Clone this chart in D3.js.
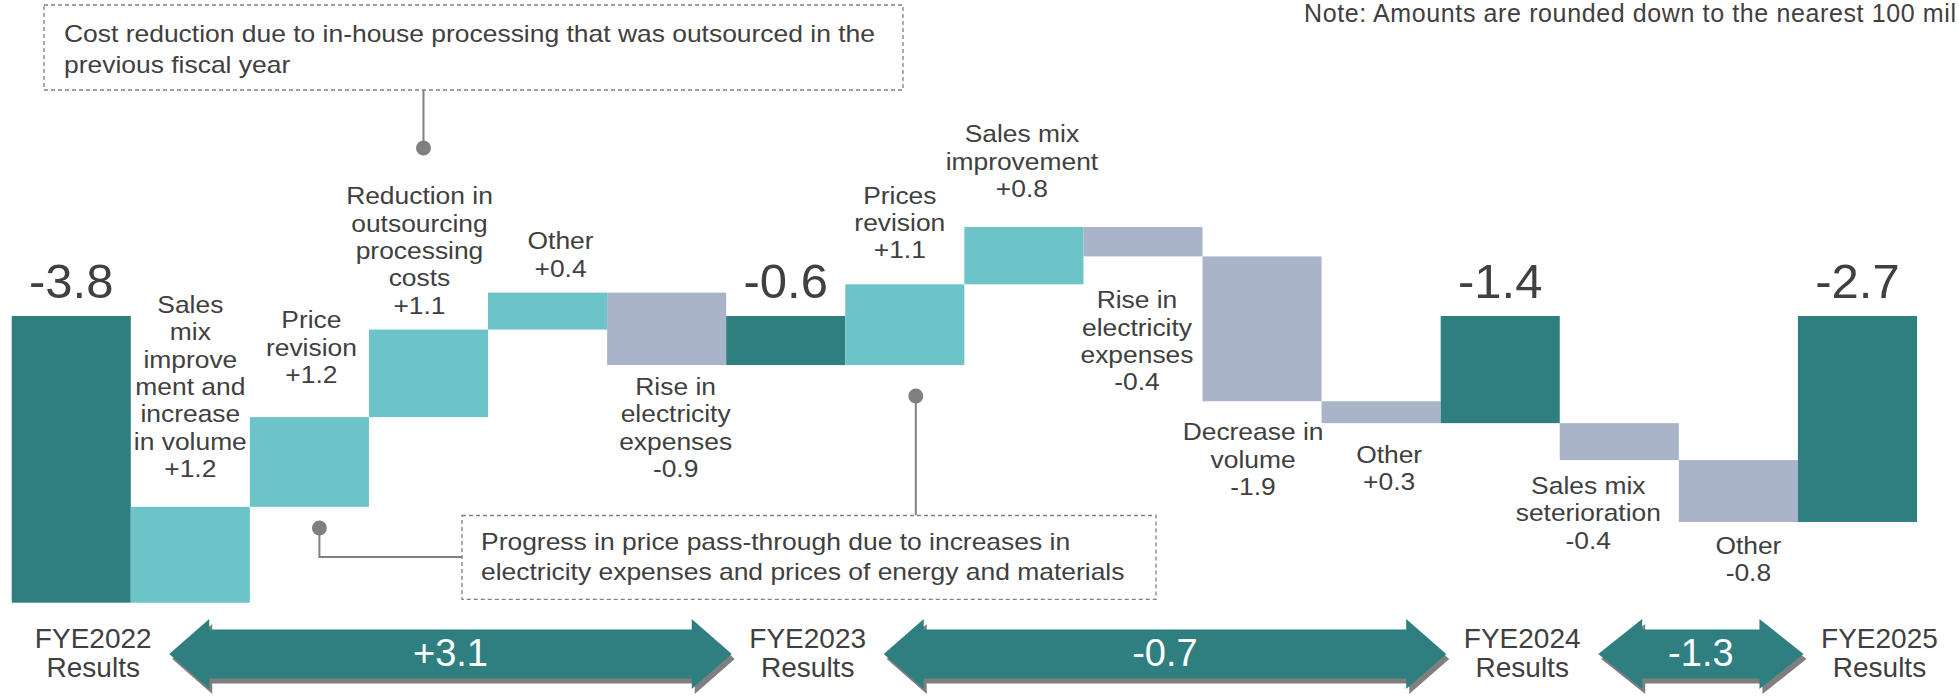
<!DOCTYPE html>
<html>
<head>
<meta charset="utf-8">
<script src="https://cdn.jsdelivr.net/npm/d3@7"></script>
<style>
  body { margin: 0; background: #fff; }
  svg { display: block; font-family: "Liberation Sans", Arial, sans-serif; }
</style>
</head>
<body>
<script>
// Operating income walk, FYE2022 -> FYE2025 (billion yen)
var categories = ["FYE2022 Results", "Sales mix improvement and increase in volume", "Price revision",
    "Reduction in outsourcing processing costs", "Other", "Rise in electricity expenses",
    "FYE2023 Results", "Prices revision", "Sales mix improvement", "Rise in electricity expenses",
    "Decrease in volume", "Other", "FYE2024 Results", "Sales mix seterioration", "Other", "FYE2025 Results"];
var isTotal = [true, false, false, false, false, false, true, false, false, false, false, false, true, false, false, true];

// bar sizes (the printed figures are rounded down)
var barValues = [-3.80, 1.27, 1.19, 1.16, 0.49, -0.96, -0.65, 1.07, 0.76, -0.39, -1.92, -0.29, -1.42, -0.49, -0.82, -2.73];
var valueLabels = ["-3.8", "+1.2", "+1.2", "+1.1", "+0.4", "-0.9", "-0.6", "+1.1", "+0.8", "-0.4", "-1.9", "+0.3", "-1.4", "-0.4", "-0.8", "-2.7"];

var labelLines = [
    [], ["Sales", "mix", "improve", "ment and", "increase", "in volume"], ["Price", "revision"],
    ["Reduction in", "outsourcing", "processing", "costs"], ["Other"], ["Rise in", "electricity", "expenses"],
    [], ["Prices", "revision"], ["Sales mix", "improvement"], ["Rise in", "electricity", "expenses"],
    ["Decrease in", "volume"], ["Other"], [], ["Sales mix", "seterioration"], ["Other"], []
];

var periods = ["FYE2022", "FYE2023", "FYE2024", "FYE2025"];
var periodChanges = ["+3.1", "-0.7", "-1.3"];

var noteText = "Note: Amounts are rounded down to the nearest 100 million yen";
var callTop = ["Cost reduction due to in-house processing that was outsourced in the", "previous fiscal year"];
var callBottom = ["Progress in price pass-through due to increases in", "electricity expenses and prices of energy and materials"];

// label placement tweaks (dx from bar centre, gap from bar edge)
var labelLayout = [null, {dx: 0, gap: 30}, {dx: 2, gap: 34}, {dx: -9, gap: 16}, {dx: 13, gap: 16},
    {dx: 9, gap: 30}, null, {dx: -5, gap: 26}, {dx: -2, gap: 30}, {dx: -6, gap: 52}, {dx: -9, gap: 39},
    {dx: 8, gap: 40}, null, {dx: -31, gap: 34}, {dx: 10, gap: 32}, null];

var W = 1959, H = 696;
var colTotal = "#2f7f80", colUp = "#6cc4c8", colDown = "#aab4c8", textCol = "#404040", lineCol = "#808080";

var svg = d3.select("body").append("svg")
    .attr("width", W)
    .attr("height", H);

var x = d3.scaleBand().domain(d3.range(categories.length)).range([11.7, 1917]).padding(0);
var y = d3.scaleLinear().domain([0, -3.8]).range([316, 602.7]);

// running levels
var level = 0;
var bars = barValues.map(function(v, i) {
    var b;
    if (isTotal[i]) {
        b = {i: i, from: 0, to: v};
        level = v;
    } else {
        b = {i: i, from: level, to: level + v};
        level += v;
    }
    return b;
});

svg.append("g").selectAll("rect")
    .data(bars)
    .enter().append("rect")
    .attr("x", function(d) { return x(d.i); })
    .attr("width", x.bandwidth())
    .attr("y", function(d) { return y(Math.max(d.from, d.to)); })
    .attr("height", function(d) { return Math.abs(y(d.from) - y(d.to)); })
    .attr("fill", function(d) {
        if (isTotal[d.i]) return colTotal;
        return d.to > d.from ? colUp : colDown;
    });

// text block stretched a bit wider, like the source slide
function textBlock(cx, y0, lines, size, sx, lh, anchor) {
    var g = svg.append("g")
        .attr("transform", "translate(" + cx + "," + y0 + ") scale(" + sx + ",1)");
    var t = g.append("text")
        .attr("fill", textCol)
        .attr("font-size", size + "px")
        .attr("text-anchor", anchor || "middle");
    lines.forEach(function(s, k) {
        t.append("tspan").attr("x", 0).attr("y", k * lh).text(s);
    });
    return t;
}

// category + value labels
var LH = 27.3;
bars.forEach(function(d) {
    var i = d.i;
    var cx = x(i) + x.bandwidth() / 2;
    if (isTotal[i]) {
        svg.append("text")
            .attr("x", cx)
            .attr("y", y(0) - 18)
            .attr("text-anchor", "middle")
            .attr("fill", textCol)
            .attr("font-size", "49px")
            .text(valueLabels[i]);
        return;
    }
    var lines = labelLines[i].concat([valueLabels[i]]);
    var lay = labelLayout[i];
    var first;
    if (d.to > d.from) {
        first = y(d.to) - lay.gap - (lines.length - 1) * LH;
    } else {
        first = y(d.to) + lay.gap;
    }
    textBlock(cx + lay.dx, first, lines, 24, 1.1, LH);
});

// note (runs off the right edge, as on the slide)
svg.append("text")
    .attr("x", 1304)
    .attr("y", 22)
    .attr("fill", textCol)
    .attr("font-size", "25px")
    .attr("textLength", 652)
    .text(noteText.replace(" yen", "").replace("million", "mil"));

// callouts
function dashedBox(x0, y0, x1, y1) {
    svg.append("rect")
        .attr("x", x0).attr("y", y0)
        .attr("width", x1 - x0).attr("height", y1 - y0)
        .attr("fill", "#fff")
        .attr("stroke", lineCol)
        .attr("stroke-width", 1.3)
        .attr("stroke-dasharray", "4,3");
}
function dot(cx, cy) {
    svg.append("circle").attr("cx", cx).attr("cy", cy).attr("r", 7.5).attr("fill", lineCol);
}
function connector(pts) {
    svg.append("path")
        .attr("d", d3.line()(pts))
        .attr("fill", "none")
        .attr("stroke", lineCol)
        .attr("stroke-width", 2);
}

var dTop = x(3) + x.bandwidth() / 2 - 5;
connector([[dTop, 90], [dTop, 148]]);
dot(dTop, 148);
dashedBox(44, 5, 903, 90);
textBlock(64, 41.7, callTop, 23, 1.15, 31.6, "start");

var dB1 = x(2) + x.bandwidth() / 2 + 10;
var dB2 = x(7) + x.bandwidth() / 2 + 11;
connector([[dB1, 528], [dB1, 557], [462, 557]]);
connector([[dB2, 396], [dB2, 515.5]]);
dot(dB1, 528);
dot(dB2, 396);
dashedBox(462, 515.5, 1156, 599.3);
textBlock(481, 550, callBottom, 23, 1.15, 30.5, "start");

// period labels and change arrows
var totalIdx = isTotal.map(function(t, i) { return t ? i : -1; }).filter(function(i) { return i >= 0; });
var periodX = totalIdx.map(function(i) { return x(i) + x.bandwidth() / 2 + 22; });

periods.forEach(function(p, k) {
    svg.append("text")
        .attr("text-anchor", "middle")
        .attr("fill", textCol)
        .attr("font-size", "28px")
        .call(function(t) {
            t.append("tspan").attr("x", periodX[k]).attr("y", 648).text(p);
            t.append("tspan").attr("x", periodX[k]).attr("y", 677).text("Results");
        });
});

function arrowPath(x0, x1, cy, sh, hh, hl) {
    return "M" + x0 + "," + cy +
        "L" + (x0 + hl) + "," + (cy - hh) +
        "L" + (x0 + hl) + "," + (cy - sh) +
        "L" + (x1 - hl) + "," + (cy - sh) +
        "L" + (x1 - hl) + "," + (cy - hh) +
        "L" + x1 + "," + cy +
        "L" + (x1 - hl) + "," + (cy + hh) +
        "L" + (x1 - hl) + "," + (cy + sh) +
        "L" + (x0 + hl) + "," + (cy + sh) +
        "L" + (x0 + hl) + "," + (cy + hh) + "Z";
}

periodChanges.forEach(function(c, k) {
    var a0 = periodX[k] + 76, a1 = periodX[k + 1] - 76;
    var hl = (a1 - a0) < 300 ? 44 : 40;
    svg.append("path")
        .attr("d", arrowPath(a0, a1, 654, 24.5, 35, hl))
        .attr("transform", "translate(3,5)")
        .attr("fill", "#7f7f7f");
    svg.append("path")
        .attr("d", arrowPath(a0, a1, 654, 24.5, 35, hl))
        .attr("fill", colTotal);
    svg.append("text")
        .attr("x", (a0 + a1) / 2)
        .attr("y", 666)
        .attr("text-anchor", "middle")
        .attr("fill", "#fff")
        .attr("font-size", "38px")
        .text(c);
});
</script>
</body>
</html>
